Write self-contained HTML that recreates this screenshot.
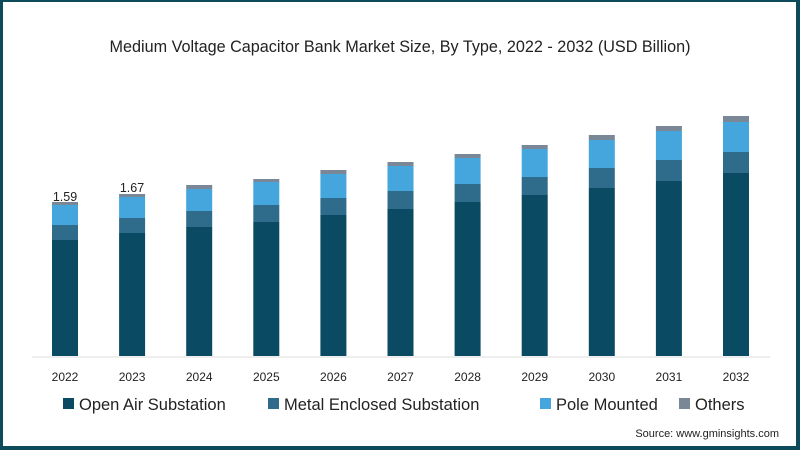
<!DOCTYPE html>
<html><head><style>
body{margin:0;background:#fff}
svg{display:block}
text{font-family:"Liberation Sans",sans-serif}
</style></head><body>
<svg width="800" height="450" viewBox="0 0 800 450">
<rect x="0" y="0" width="800" height="450" fill="#0d4a5a"/>
<rect x="3" y="2" width="793" height="444" fill="#fff"/>
<text x="400" y="52" text-anchor="middle" font-size="16.2" fill="#222">Medium Voltage Capacitor Bank Market Size, By Type, 2022 - 2032 (USD Billion)</text>
<line x1="32" y1="357" x2="770" y2="357" stroke="#ddd" stroke-width="1"/>
<g id="bars"></g>
<text x="65" y="201" text-anchor="middle" font-size="12.5" fill="#222">1.59</text>
<text x="132" y="192" text-anchor="middle" font-size="12.5" fill="#222">1.67</text>
<g font-size="12" fill="#222" text-anchor="middle" id="years"></g>
<g font-size="16.5" fill="#222">
<rect x="63" y="398" width="11" height="11" fill="#0b4a63"/><text x="79" y="410">Open Air Substation</text>
<rect x="268" y="398" width="11" height="11" fill="#2f6b8a"/><text x="284" y="410">Metal Enclosed Substation</text>
<rect x="540" y="398" width="11" height="11" fill="#44a6dc"/><text x="556" y="410">Pole Mounted</text>
<rect x="679" y="398" width="11" height="11" fill="#7a8796"/><text x="695" y="410">Others</text>
</g>
<text x="779" y="437" text-anchor="end" font-size="11" fill="#222">Source: www.gminsights.com</text>
</svg>
<script>
var d=[[202,205,225,240],[194,197,218,233],[185,189,211,227],[179,182,205,222],[170,174,198,215],[162,166,191,209],[154,158,184,202],[145,149,177,195],[135,140,168,188],[126,131,160,181],[116,122,152,173]];
var c=["#7a8796","#44a6dc","#2f6b8a","#0b4a63"];
var g=document.getElementById("bars"),y=document.getElementById("years"),ns="http://www.w3.org/2000/svg";
d.forEach(function(r,i){var cx=65+i*67.1;var pts=r.concat([356]);
for(var k=0;k<4;k++){var e=document.createElementNS(ns,"rect");e.setAttribute("x",cx-13);e.setAttribute("y",pts[k]);e.setAttribute("width",26);e.setAttribute("height",pts[k+1]-pts[k]);e.setAttribute("fill",c[k]);g.appendChild(e);}
var t=document.createElementNS(ns,"text");t.setAttribute("x",cx);t.setAttribute("y",381);t.textContent=2022+i;y.appendChild(t);});
</script>
</body></html>
